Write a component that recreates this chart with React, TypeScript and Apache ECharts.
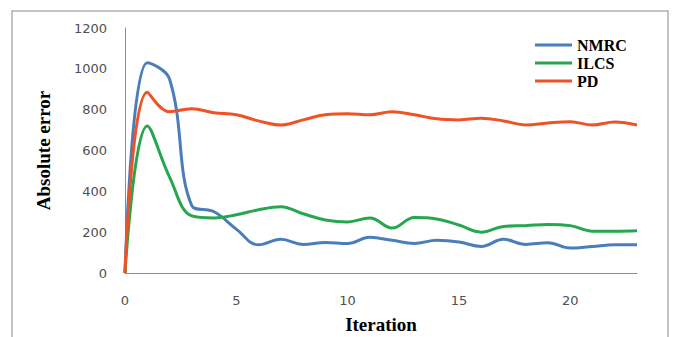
import React, { useEffect, useRef } from "react";
import * as echarts from "echarts";

const iterations = [0, 1, 2, 3, 4, 5, 6, 7, 8, 9, 10, 11, 12, 13, 14, 15, 16, 17, 18, 19, 20, 21, 22, 23];
const nmrc = [0, 1030, 950, 330, 300, 215, 138, 165, 140, 150, 145, 175, 160, 145, 160, 152, 130, 165, 140, 148, 122, 130, 138, 138];
const ilcs = [0, 720, 470, 280, 270, 285, 310, 325, 290, 260, 250, 270, 220, 272, 265, 235, 200, 228, 232, 238, 232, 205, 205, 207];
const pd = [0, 885, 790, 805, 785, 775, 745, 725, 750, 775, 780, 775, 790, 775, 755, 750, 758, 745, 725, 735, 741, 725, 740, 725];
const seriesNames = ["NMRC", "ILCS", "PD"];
const colors = ["#4a7ebb", "#26a64f", "#ee5226"];

export default function App() {
  const ref = useRef<HTMLDivElement>(null);
  useEffect(() => {
    document.body.style.margin = "0";
    const chart = echarts.init(ref.current!, null, { renderer: "svg" });
    const dataSets = [nmrc, ilcs, pd];
    chart.setOption({
      animation: false,
      backgroundColor: "#ffffff",
      graphic: [
        {
          type: "rect",
          shape: { x: 12, y: 11, width: 656, height: 340 },
          style: { fill: "none", stroke: "#b0b0b0", lineWidth: 1.5 },
          silent: true,
        },
      ],
      grid: { left: 125, right: 39, top: 28, bottom: 64, outerBoundsMode: "none", containLabel: false },
      legend: {
        orient: "vertical",
        left: 530,
        top: 32,
        icon: "rect",
        itemWidth: 37,
        itemHeight: 3,
        itemGap: 2,
        textStyle: { fontFamily: "Liberation Serif", fontWeight: "bold", fontSize: 16, color: "#000" },
        data: seriesNames,
      },
      xAxis: {
        type: "value",
        min: 0,
        max: 23,
        interval: 5,
        name: "Iteration",
        nameLocation: "middle",
        nameGap: 42,
        nameTextStyle: { fontFamily: "Liberation Serif", fontWeight: "bold", fontSize: 19, color: "#000" },
        axisLine: { show: true, lineStyle: { color: "#8c8c8c", width: 1 } },
        axisTick: { show: false },
        splitLine: { show: false },
        axisLabel: { margin: 21, fontFamily: "DejaVu Sans", fontSize: 13, color: "#505050", showMaxLabel: false },
      },
      yAxis: {
        type: "value",
        min: 0,
        max: 1200,
        interval: 200,
        name: "Absolute error",
        nameLocation: "middle",
        nameGap: 72,
        nameTextStyle: { fontFamily: "Liberation Serif", fontWeight: "bold", fontSize: 19, color: "#000" },
        axisLine: { show: true, lineStyle: { color: "#8c8c8c", width: 1 } },
        axisTick: { show: false },
        splitLine: { show: false },
        axisLabel: {
          margin: 18,
          fontFamily: "DejaVu Sans",
          fontSize: 13,
          color: "#505050",
          formatter: (v: number) => String(v),
        },
      },
      series: seriesNames.map((name, i) => ({
        name,
        type: "line",
        smooth: 0.4,
        symbol: "none",
        color: colors[i],
        lineStyle: { width: 3, color: colors[i] },
        data: iterations.map((x, j) => [x, dataSets[i][j]]),
      })),
    });
    return () => chart.dispose();
  }, []);
  return <div ref={ref} style={{ width: 676, height: 337 }} />;
}
